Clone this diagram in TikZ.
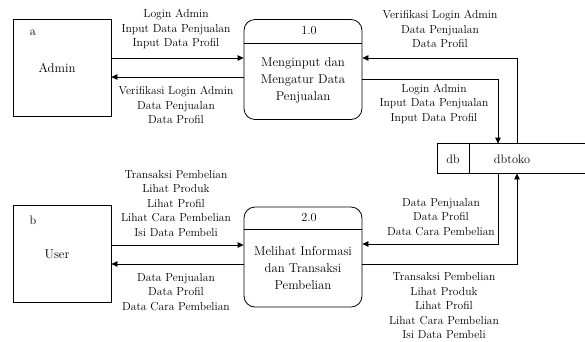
\documentclass[tikz,border=0pt]{standalone}
\usetikzlibrary{arrows.meta}
\begin{document}
\begin{tikzpicture}[x=1pt,y=-1pt,
  line width=0.8pt,
  flow/.style={-{Triangle[length=6pt,width=5.5pt]}},
  entity/.style={draw,minimum width=98pt,minimum height=97pt,inner sep=0pt},
  proc/.style={draw,rounded corners=11pt,minimum width=118pt,minimum height=100pt,inner sep=0pt},
  lbl/.style={font=\fontsize{11.6}{14.5}\selectfont,align=center,inner sep=0pt},
  body/.style={font=\fontsize{12.8}{17}\selectfont,align=center,inner sep=0pt},
  tag/.style={font=\fontsize{12.3}{15}\selectfont,inner sep=0pt}]
\useasboundingbox (0,0) rectangle (585,341);

% external entities
\node[entity] (admin) at (62,67.5) {};
\node[tag] (admintag) at (33,33) {a};
\node[body] (admintxt) at (57,68) {Admin};
\node[entity] (user) at (62,254) {};
\node[tag] (usertag) at (33,220) {b};
\node[body] (usertxt) at (57,254) {User};

% processes
\node[proc] (p1) at (303,69.5) {};
\draw (p1.west |- 0,43) -- (p1.east |- 0,43);
\node[tag] (p1num) at (309,31) {1.0};
\node[body] (p1txt) at (303,80) {Menginput dan\\Mengatur Data\\Penjualan};
\node[proc] (p2) at (303,257) {};
\draw (p2.west |- 0,229) -- (p2.east |- 0,229);
\node[tag] (p2num) at (309,218) {2.0};
\node[body] (p2txt) at (303,268) {Melihat Informasi\\dan Transaksi\\Pembelian};

% data store
\node[minimum width=147pt,minimum height=29pt,inner sep=0pt] (db) at (511.5,158.5) {};
\draw (db.north east) -- (db.north west) -- (db.south west) -- (db.south east);
\draw (469,144) -- (469,173);
\node[tag] (dbid) at (453,159) {db};
\node[tag] (dbname) at (512,159) {dbtoko};

% flows between Admin and process 1.0
\draw[flow] (admin.east |- 0,58) -- (p1.west |- 0,58);
\draw[flow] (p1.west |- 0,77) -- (admin.east |- 0,77);
\node[lbl] (l1) at (176,29) {Login Admin\\Input Data Penjualan\\Input Data Profil};
\node[lbl] (l2) at (176,105) {Verifikasi Login Admin\\Data Penjualan\\Data Profil};

% flows between process 1.0 and the data store
\draw[flow] (db.north -| 517,0) |- (p1.east |- 0,58);
\draw[flow] (p1.east |- 0,79) -| (db.north -| 498,0);
\node[lbl] (l3) at (440,29) {Verifikasi Login Admin\\Data Penjualan\\Data Profil};
\node[lbl] (l4) at (434,103.5) {Login Admin\\Input Data Penjualan\\Input Data Profil};

% flows between User and process 2.0
\draw[flow] (user.east |- 0,245) -- (p2.west |- 0,245);
\draw[flow] (p2.west |- 0,264) -- (user.east |- 0,264);
\node[lbl] (l5) at (176,203.5) {Transaksi Pembelian\\Lihat Produk\\Lihat Profil\\Lihat Cara Pembelian\\Isi Data Pembeli};
\node[lbl] (l6) at (176,292) {Data Penjualan\\Data Profil\\Data Cara Pembelian};

% flows between process 2.0 and the data store
\draw[flow] (db.south -| 498,0) |- (p2.east |- 0,244);
\draw[flow] (p2.east |- 0,264) -| (db.south -| 517,0);
\node[lbl] (l7) at (441,217) {Data Penjualan\\Data Profil\\Data Cara Pembelian};
\node[lbl] (l8) at (444,306) {Transaksi Pembelian\\Lihat Produk\\Lihat Profil\\Lihat Cara Pembelian\\Isi Data Pembeli};
\end{tikzpicture}
\end{document}
